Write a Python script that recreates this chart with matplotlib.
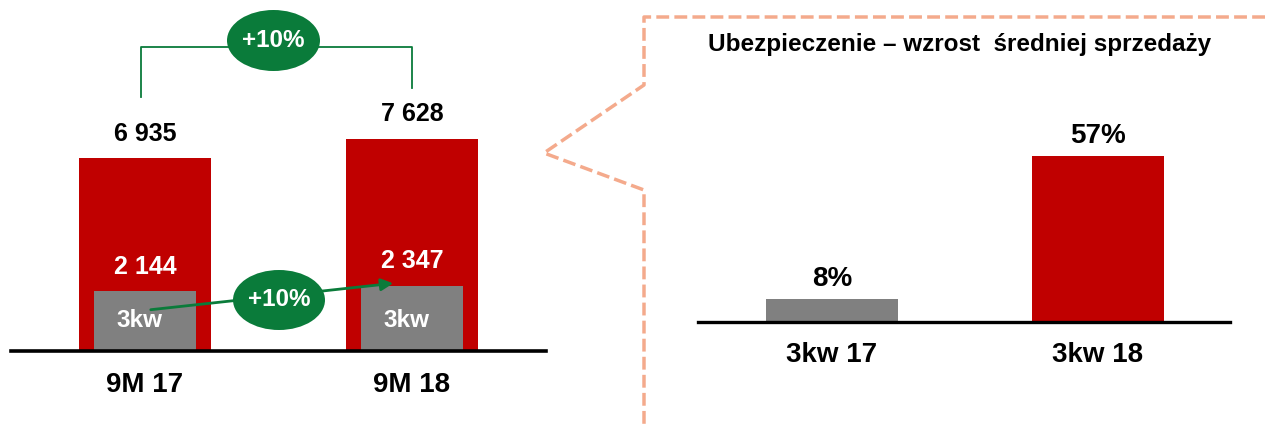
import matplotlib.pyplot as plt
from matplotlib import font_manager
from matplotlib.patches import Ellipse, FancyArrowPatch
from matplotlib.lines import Line2D

plt.rcParams['font.family'] = ['Liberation Sans', 'DejaVu Sans']
plt.rcParams['font.weight'] = 'bold'

# left panel: 9M totals with 3rd quarter part
periods = ['9M 17', '9M 18']
total_9m = [6935, 7628]
q3_values = [2144, 2347]
q3_label = '3kw'
growth_total = '+10%'
growth_q3 = '+10%'

# right panel: insurance share
quarters = ['3kw 17', '3kw 18']
insurance_pct = [8, 57]
right_title = 'Ubezpieczenie – wzrost  średniej sprzedaży'

RED = '#C00000'
GRAY = '#808080'
GREEN = '#0A7B3A'
SALMON = '#F4AA8C'

W, H = 1265, 428
fig = plt.figure(figsize=(W / 100, H / 100), dpi=100)


def fx(px):
    return px / W


def fy(py):
    return 1 - py / H


# ---- left panel
ax = fig.add_axes([fx(11), 77 / H, 535 / W, 351 / H])
ax.set_xlim(-0.502, 1.502)
ax.set_ylim(0, 12612)
ax.axis('off')
xs = range(len(periods))
ax.bar(xs, total_9m, width=0.494, color=RED, zorder=2)
ax.bar(xs, q3_values, width=0.382, color=GRAY, zorder=3)
ax.axhline(0, color='black', lw=2.6, zorder=4, clip_on=False)
for i, x in enumerate(xs):
    ax.annotate(f'{total_9m[i]:,}'.replace(',', ' '), (x, total_9m[i]),
                xytext=(0, 17.5), textcoords='offset points',
                ha='center', va='center', fontsize=18, color='black')
    ax.annotate(f'{q3_values[i]:,}'.replace(',', ' '), (x, q3_values[i]),
                xytext=(0, 17.5), textcoords='offset points',
                ha='center', va='center', fontsize=18, color='white')
    ax.annotate(q3_label, (x, 0), xytext=(-4.3, 22), textcoords='offset points',
                ha='center', va='center', fontsize=17.5, color='white', zorder=5)
    ax.annotate(periods[i], (x, 0), xytext=(0, -24.5), textcoords='offset points',
                ha='center', va='center', fontsize=20, color='black',
                annotation_clip=False)

# bracket and growth bubble on top
fig.add_artist(Line2D([fx(141), fx(141), fx(412), fx(412)],
                      [fy(97), fy(47), fy(47), fy(88)],
                      transform=fig.transFigure, color=GREEN, lw=1.3))
fig.add_artist(Ellipse((fx(273.5), fy(40.5)), 93 / W, 61 / H,
                       transform=fig.transFigure, facecolor=GREEN,
                       edgecolor='none', zorder=5))
fig.text(fx(273.5), fy(40.5), growth_total, ha='center', va='center',
         fontsize=17.5, color='white', zorder=6)

# arrow between quarter bars
fig.add_artist(FancyArrowPatch((fx(148), fy(310)), (fx(396), fy(283)),
                               transform=fig.transFigure, arrowstyle='-|>',
                               mutation_scale=18, color=GREEN, lw=2, zorder=5))
fig.add_artist(Ellipse((fx(279), fy(300)), 92 / W, 60 / H,
                       transform=fig.transFigure, facecolor=GREEN,
                       edgecolor='none', zorder=6))
fig.text(fx(279), fy(300), growth_q3, ha='center', va='center',
         fontsize=17.5, color='white', zorder=7)

# ---- dashed callout outline
fig.add_artist(Line2D([fx(1265), fx(644), fx(644), fx(544), fx(644), fx(644)],
                      [fy(17), fy(17), fy(85), fy(153), fy(190), fy(428)],
                      transform=fig.transFigure, color=SALMON, lw=2.5,
                      linestyle=(0, (3.7, 1.5))))

# ---- right panel
ax2 = fig.add_axes([fx(698), 106 / H, 532 / W, 200 / H])
ax2.set_xlim(-0.505, 1.499)
ax2.set_ylim(0, 200 / 2.92)
ax2.axis('off')
xs2 = range(len(quarters))
ax2.bar(xs2, insurance_pct, width=0.497, color=[GRAY, RED], zorder=2)
ax2.axhline(0, color='black', lw=2.4, zorder=4, clip_on=False)
for i, x in enumerate(xs2):
    ax2.annotate(f'{insurance_pct[i]}%', (x, insurance_pct[i]),
                 xytext=(0, 14), textcoords='offset points',
                 ha='center', va='center', fontsize=20, color='black')
    ax2.annotate(quarters[i], (x, 0), xytext=(0, -24), textcoords='offset points',
                 ha='center', va='center', fontsize=20, color='black',
                 annotation_clip=False)

# title: narrow face if present, otherwise regular face scaled to width
narrow = [f.name for f in font_manager.fontManager.ttflist
          if f.name == 'Liberation Sans Narrow']
if narrow:
    title_family, title_size = ['Liberation Sans Narrow'], 20
else:
    title_family, title_size = ['Liberation Sans'], 17.5
fig.text(fx(960), fy(45), right_title, ha='center', va='center',
         fontsize=title_size, family=title_family, color='black')

fig.savefig('out.png', dpi=100)
